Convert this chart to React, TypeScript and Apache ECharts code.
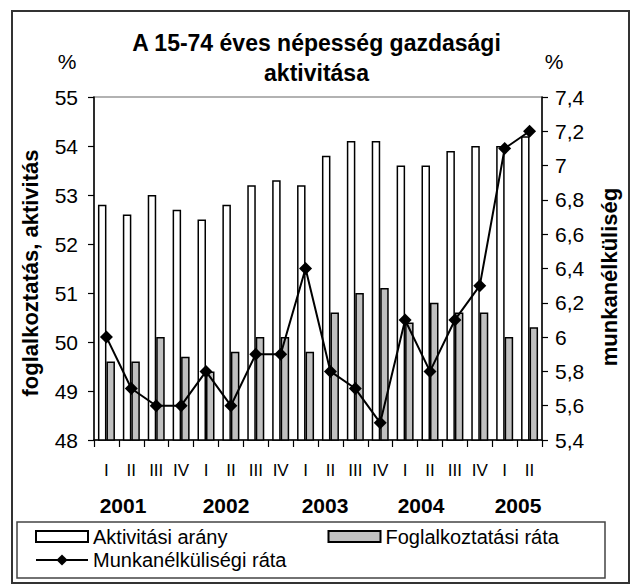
import React, { useEffect, useRef } from "react";
import * as echarts from "echarts";

const categories = ["I", "II", "III", "IV", "I", "II", "III", "IV", "I", "II", "III", "IV", "I", "II", "III", "IV", "I", "II"];
const years = ["2001", "2002", "2003", "2004", "2005"];
const aktivitasi = [52.8, 52.6, 53.0, 52.7, 52.5, 52.8, 53.2, 53.3, 53.2, 53.8, 54.1, 54.1, 53.6, 53.6, 53.9, 54.0, 54.0, 54.2];
const foglalkoztatasi = [49.6, 49.6, 50.1, 49.7, 49.4, 49.8, 50.1, 50.1, 49.8, 50.6, 51.0, 51.1, 50.4, 50.8, 50.6, 50.6, 50.1, 50.3];
const munkanelkuli = [6.0, 5.7, 5.6, 5.6, 5.8, 5.6, 5.9, 5.9, 6.4, 5.8, 5.7, 5.5, 6.1, 5.8, 6.1, 6.3, 7.1, 7.2];

const FONT = "'Liberation Sans', Arial, sans-serif";
const yearX = [123, 226, 325, 421, 518];

export default function App() {
  const ref = useRef<HTMLDivElement>(null);
  useEffect(() => {
    document.body.style.margin = "0";
    const chart = echarts.init(ref.current!, undefined, { renderer: "svg" });
    const option: any = {
      animation: false,
      backgroundColor: "#fff",
      textStyle: { fontFamily: FONT },
      title: {
        text: "A 15-74 éves népesség gazdasági\naktivitása",
        left: "center",
        top: 28,
        padding: [0, 0, 0, 13],
        textStyle: { fontFamily: FONT, fontSize: 23, fontWeight: "bold", color: "#000", lineHeight: 30 },
      },
      grid: {
        left: 94,
        right: 91,
        top: 97,
        bottom: 144,
        show: true,
        borderColor: "#999",
        borderWidth: 1.5,
        backgroundColor: "transparent",
      },
      legend: [
        {
          data: ["Aktivitási arány", "Foglalkoztatási ráta"],
          left: 35,
          top: 526.5,
          padding: 0,
          itemWidth: 52,
          itemHeight: 11,
          itemGap: 100,
          icon: "rect",
          selectedMode: false,
          textStyle: { fontFamily: FONT, fontSize: 20, color: "#000", lineHeight: 19 },
        },
        {
          data: ["Munkanélküliségi ráta"],
          left: 35,
          top: 550,
          padding: 0,
          itemWidth: 52,
          itemHeight: 14,
          selectedMode: false,
          textStyle: { fontFamily: FONT, fontSize: 20, color: "#000", lineHeight: 19 },
        },
      ],
      xAxis: {
        type: "category",
        data: categories,
        boundaryGap: true,
        axisLine: { lineStyle: { color: "#000", width: 1.5 } },
        axisTick: { show: true, length: 7, lineStyle: { color: "#000", width: 1.2 } },
        axisLabel: { interval: 0, margin: 22, fontSize: 17, color: "#000", fontFamily: FONT },
        splitLine: { show: false },
      },
      yAxis: [
        {
          type: "value",
          min: 48,
          max: 55,
          interval: 1,
          axisLine: { show: true, lineStyle: { color: "#000", width: 1.5 } },
          axisTick: { show: true, length: 6, lineStyle: { color: "#000", width: 1.2 } },
          axisLabel: { margin: 16, fontSize: 21, color: "#000", fontFamily: FONT },
          splitLine: { show: false },
        },
        {
          type: "value",
          min: 5.4,
          max: 7.4,
          interval: 0.2,
          position: "right",
          axisLine: { show: true, lineStyle: { color: "#000", width: 1.5 } },
          axisTick: { show: true, length: 6, lineStyle: { color: "#000", width: 1.2 } },
          axisLabel: {
            margin: 13,
            fontSize: 21,
            color: "#000",
            fontFamily: FONT,
            formatter: (v: number) => String(Math.round(v * 10) / 10).replace(".", ","),
          },
          splitLine: { show: false },
        },
      ],
      series: [
        {
          name: "Aktivitási arány",
          type: "bar",
          data: aktivitasi,
          barWidth: 8.5,
          barGap: "0%",
          itemStyle: { color: "#fff", borderColor: "#000", borderWidth: 1.5 },
        },
        {
          name: "Foglalkoztatási ráta",
          type: "bar",
          data: foglalkoztatasi,
          barWidth: 8.5,
          barGap: "0%",
          itemStyle: { color: "#c0c0c0", borderColor: "#000", borderWidth: 1.5 },
        },
        {
          name: "Munkanélküliségi ráta",
          type: "line",
          yAxisIndex: 1,
          data: munkanelkuli,
          symbol: "diamond",
          symbolSize: 13,
          z: 5,
          lineStyle: { color: "#000", width: 2 },
          itemStyle: { color: "#000" },
        },
      ],
      graphic: [
        {
          type: "rect",
          shape: { x: 12, y: 11, width: 617, height: 572 },
          style: { fill: "none", stroke: "#333", lineWidth: 2 },
          silent: true,
        },
        {
          type: "rect",
          shape: { x: 17, y: 522, width: 588, height: 56 },
          style: { fill: "none", stroke: "#444", lineWidth: 1.5 },
          silent: true,
        },
        {
          type: "text",
          x: 67,
          y: 61,
          style: { text: "%", font: `21px ${FONT}`, fill: "#000", textAlign: "center", textVerticalAlign: "middle" },
        },
        {
          type: "text",
          x: 554,
          y: 61,
          style: { text: "%", font: `21px ${FONT}`, fill: "#000", textAlign: "center", textVerticalAlign: "middle" },
        },
        {
          type: "text",
          x: 30,
          y: 273,
          rotation: Math.PI / 2,
          style: {
            text: "foglalkoztatás, aktivitás",
            font: `bold 22px ${FONT}`,
            fill: "#000",
            textAlign: "center",
            textVerticalAlign: "middle",
          },
        },
        {
          type: "text",
          x: 609,
          y: 277,
          rotation: Math.PI / 2,
          style: {
            text: "munkanélküliség",
            font: `bold 22px ${FONT}`,
            fill: "#000",
            textAlign: "center",
            textVerticalAlign: "middle",
          },
        },
        ...years.map((y, i) => ({
          type: "text",
          x: yearX[i],
          y: 505,
          style: {
            text: y,
            font: `bold 21px ${FONT}`,
            fill: "#000",
            textAlign: "center",
            textVerticalAlign: "middle",
          },
        })),
      ],
    };
    chart.setOption(option);
    return () => chart.dispose();
  }, []);
  return <div ref={ref} style={{ position: "fixed", left: 0, top: 0, width: 633, height: 584 }} />;
}
